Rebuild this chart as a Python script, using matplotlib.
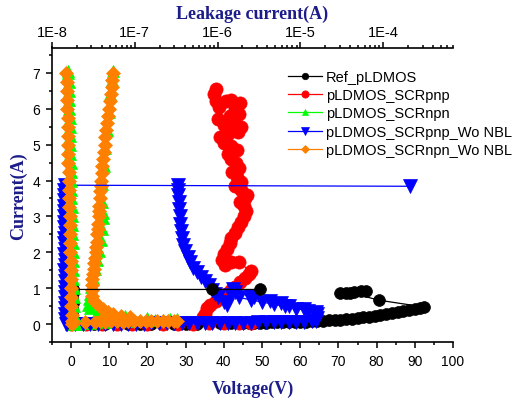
import numpy as np
import matplotlib
matplotlib.use("Agg")
import matplotlib.pyplot as plt
from matplotlib.ticker import MultipleLocator, LogLocator, FuncFormatter, NullFormatter

plt.rcParams['font.family'] = ['Liberation Sans', 'DejaVu Sans']

# ---- TLP I-V data (bottom axis: voltage, left axis: current) ----
ref_v = [0, 3, 6, 9, 12, 15, 18, 21, 24, 27, 30, 33, 36, 39, 42,
         45, 46.5, 48, 49.5, 51, 52.5, 54, 55.5, 57, 58.5, 60, 61.5, 63, 64.5, 66, 67.5, 69,
         70.5, 72, 73.5, 75, 76.5, 78, 79.5, 81, 82.5, 84, 85.5, 87, 88.5, 90, 91.3, 92.5,
         80.7, 73.0, 70.5, 72.0, 74.0, 75.8, 77.3]
ref_i = [0.0, 0.002, 0.004, 0.005, 0.007, 0.01, 0.012, 0.013, 0.016, 0.018, 0.02, 0.022, 0.025, 0.027, 0.03,
         0.035, 0.038, 0.042, 0.046, 0.05, 0.053, 0.057, 0.06, 0.065, 0.068, 0.072, 0.077, 0.085, 0.092, 0.1,
         0.108, 0.115, 0.125, 0.14, 0.155, 0.17, 0.19, 0.21, 0.235, 0.26, 0.28, 0.305, 0.33, 0.36, 0.39, 0.42,
         0.45, 0.48,
         0.67, 0.88, 0.86, 0.87, 0.9, 0.92, 0.93]

pnp_v = [0, 4, 8, 12, 16, 20, 24, 28, 32, 36, 40, 44, 47,
         34.5, 35.0, 35.5, 36.5, 38.0, 39.0, 40.5, 42.0, 43.0, 44.2, 45.5, 46.5, 47.0,
         44.0, 42.0, 40.3, 39.6, 40.0, 40.8, 41.5, 42.0, 43.0, 43.8, 44.5, 45.2, 45.8, 45.3,
         44.2, 45.5, 46.0, 44.6, 43.0, 44.5, 43.5, 42.2, 44.0, 43.2, 42.0, 41.2, 43.5, 42.0,
         40.0, 39.0, 41.0, 43.8, 44.5, 42.5, 40.0, 38.5, 41.5, 44.0, 43.0, 44.3, 42.0, 40.5,
         38.8, 38.0, 37.5, 37.9]
pnp_i = [0.0, 0.003, 0.005, 0.008, 0.01, 0.012, 0.015, 0.018, 0.02, 0.023, 0.026, 0.03, 0.035,
         0.2, 0.3, 0.45, 0.55, 0.65, 0.75, 0.85, 0.95, 1.05, 1.19, 1.3, 1.4, 1.47,
         1.72, 1.74, 1.64, 1.8, 1.95, 2.1, 2.25, 2.4, 2.55, 2.7, 2.85, 3.0, 3.15, 3.3,
         3.4, 3.5, 3.6, 3.75, 3.85, 3.95, 4.1, 4.25, 4.35, 4.5, 4.6, 4.75, 4.85, 4.95,
         5.05, 5.2, 5.3, 5.35, 5.5, 5.6, 5.55, 5.7, 5.8, 5.85, 6.0, 6.15, 6.25, 6.2,
         6.05, 6.2, 6.4, 6.55]

npn_v = [0, 2, 4, 6, 8, 10, 12, 14, 16, 18, 20, 22, 24, 26, 27.7,
         20.0, 14.0, 10.0, 7.0, 5.0,
         4.5, 4.6, 4.9, 5.3, 5.8, 6.3, 6.8, 7.3, 7.8, 8.2, 8.4, 8.3, 8.0, 8.1, 8.5, 8.9,
         9.3, 9.8, 10.3, 10.7, 11.0]
npn_i = [0.0, 0.02, 0.04, 0.05, 0.06, 0.07, 0.08, 0.09, 0.1, 0.1, 0.11, 0.12, 0.13, 0.14, 0.15,
         0.18, 0.22, 0.3, 0.38, 0.45,
         0.55, 0.7, 0.85, 1.05, 1.3, 1.55, 1.8, 2.05, 2.35, 2.65, 2.95, 3.1, 3.4, 3.9, 4.4, 4.9,
         5.4, 5.9, 6.4, 6.8, 7.05]

pnp_nbl_v = [-1, 1, 3, 5, 7, 9, 11, 13, 15, 17, 19, 21, 23, 25, 27, 29, 31, 33, 35, 37, 39, 41,
             43, 45, 47, 49, 51, 53, 55, 57, 59, 61, 63,
             64.0, 64.3, 64.3,
             62.0, 59.0, 56.0, 53.0, 50.0, 47.0, 44.0, 42.0, 40.7,
             42.5, 47.0, 52.0, 57.0, 61.0, 64.0,
             55.0, 48.0, 43.0, 40.0,
             38.5, 37.8, 37.0, 36.0, 35.0, 34.0, 33.0, 32.0, 31.2, 30.5, 29.9, 29.4, 29.1,
             28.8, 28.6, 28.5, 28.3, 28.2, 28.1, 28.0, 28.0]
pnp_nbl_i = [0.0, 0.004, 0.006, 0.008, 0.01, 0.012, 0.014, 0.016, 0.018, 0.02, 0.022, 0.024, 0.026,
             0.028, 0.03, 0.032, 0.034, 0.036, 0.038, 0.04, 0.042, 0.044, 0.046, 0.048, 0.05, 0.053,
             0.056, 0.06, 0.063, 0.066, 0.07, 0.075, 0.08,
             0.1, 0.18, 0.3,
             0.38, 0.44, 0.5, 0.56, 0.62, 0.68, 0.75, 0.82, 0.55,
             0.97, 0.8, 0.65, 0.52, 0.42, 0.34,
             0.58, 0.75, 0.9, 0.62,
             0.75, 0.85, 0.95, 1.08, 1.2, 1.32, 1.45, 1.57, 1.72, 1.88, 2.05, 2.2, 2.4,
             2.6, 2.8, 3.0, 3.2, 3.4, 3.6, 3.75, 3.87]

npn_nbl_v = [0.3, 3.7, 6.3, 7.5, 9.0, 10.5, 12.0, 13.5, 15.0, 16.5, 18.0, 19.5, 21.0, 22.5, 24.0,
             25.5, 27.0, 27.7,
             15.5, 13.0, 11.0, 9.7, 8.3, 7.1, 6.0, 5.4,
             5.45, 5.5, 5.6, 5.75, 5.9, 6.1, 6.3, 6.5, 6.65, 6.8, 6.9, 7.0, 7.1, 7.2, 7.3, 7.4,
             7.5, 7.6, 7.7, 7.85, 8.0, 8.2, 8.4, 8.6, 8.8, 9.0, 9.2, 9.4, 9.6, 9.85, 10.1,
             10.35, 10.6, 10.8, 11.0]
npn_nbl_i = [0.05, 0.07, 0.07, 0.08, 0.07, 0.08, 0.08, 0.07, 0.09, 0.08, 0.08, 0.09, 0.08, 0.08, 0.09,
             0.08, 0.09, 0.09,
             0.2, 0.22, 0.28, 0.35, 0.43, 0.53, 0.65, 0.8,
             0.95, 1.1, 1.25, 1.4, 1.55, 1.7, 1.85, 2.0, 2.15, 2.3, 2.5, 2.65, 2.8, 3.0, 3.15, 3.3,
             3.5, 3.7, 3.85, 4.0, 4.2, 4.4, 4.6, 4.8, 5.0, 5.2, 5.4, 5.6, 5.8, 6.0, 6.2,
             6.4, 6.6, 6.8, 7.0]

# ---- leakage data (top axis: leakage current, left axis: current) ----
ref_leak_i = [0.0, 0.1, 0.2, 0.3, 0.45, 0.6, 0.75, 0.88, 0.97, 0.97, 0.97]
ref_leak = [1.74e-8, 1.75e-8, 1.73e-8, 1.76e-8, 1.75e-8, 1.77e-8, 1.76e-8, 1.78e-8, 1.8e-8, 8.6e-7, 3.25e-6]

pnp_nbl_leak_i = [0.0, 0.15, 0.3, 0.45, 0.6, 0.75, 0.9, 1.05, 1.2, 1.35, 1.5, 1.65, 1.8, 1.95,
                  2.1, 2.25, 2.4, 2.55, 2.7, 2.85, 3.0, 3.15, 3.3, 3.45, 3.6, 3.75, 3.87, 3.84]
pnp_nbl_leak = [1.46e-8, 1.45e-8, 1.44e-8, 1.45e-8, 1.43e-8, 1.44e-8, 1.42e-8, 1.43e-8, 1.42e-8, 1.44e-8,
                1.41e-8, 1.42e-8, 1.43e-8, 1.41e-8, 1.42e-8, 1.4e-8, 1.41e-8, 1.42e-8, 1.4e-8, 1.41e-8,
                1.39e-8, 1.4e-8, 1.41e-8, 1.4e-8, 1.41e-8, 1.4e-8, 1.42e-8, 2.1e-4]

npn_leak_i = [0.02, 0.1, 0.25, 0.5, 0.75, 1.0, 1.25, 1.5, 1.75, 2.0, 2.25, 2.5, 2.75, 3.0, 3.25,
              3.5, 3.75, 4.0, 4.25, 4.5, 4.75, 5.0, 5.25, 5.5, 5.75, 6.0, 6.25, 6.5, 6.75, 7.0, 7.06]
npn_leak = [1.86e-8, 1.86e-8, 1.85e-8, 1.84e-8, 1.83e-8, 1.82e-8, 1.81e-8, 1.80e-8, 1.79e-8, 1.78e-8,
            1.77e-8, 1.76e-8, 1.75e-8, 1.74e-8, 1.73e-8, 1.72e-8, 1.71e-8, 1.70e-8, 1.69e-8, 1.68e-8,
            1.67e-8, 1.66e-8, 1.65e-8, 1.64e-8, 1.63e-8, 1.62e-8, 1.61e-8, 1.60e-8, 1.59e-8, 1.58e-8, 1.57e-8]

npn_nbl_leak_i = [0.02, 0.1, 0.25, 0.5, 0.75, 1.0, 1.25, 1.5, 1.75, 2.0, 2.25, 2.5, 2.75, 3.0, 3.25,
                  3.5, 3.75, 4.0, 4.25, 4.5, 4.75, 5.0, 5.25, 5.5, 5.75, 6.0, 6.25, 6.5, 6.75, 7.0]
npn_nbl_leak = [1.74e-8, 1.74e-8, 1.73e-8, 1.72e-8, 1.71e-8, 1.70e-8, 1.69e-8, 1.69e-8, 1.68e-8, 1.67e-8,
                1.66e-8, 1.65e-8, 1.64e-8, 1.63e-8, 1.62e-8, 1.62e-8, 1.61e-8, 1.60e-8, 1.59e-8, 1.58e-8,
                1.57e-8, 1.56e-8, 1.55e-8, 1.55e-8, 1.54e-8, 1.53e-8, 1.52e-8, 1.51e-8, 1.50e-8, 1.49e-8]

labels = ["Ref_pLDMOS", "pLDMOS_SCRpnp", "pLDMOS_SCRnpn", "pLDMOS_SCRpnp_Wo NBL", "pLDMOS_SCRnpn_Wo NBL"]
colors = ["#000000", "#ff0000", "#00ff00", "#0000ff", "#ff8000"]
markers = ["o", "o", "^", "v", "D"]
msizes = [8.5, 9.5, 9, 9.5, 7.5]

label_color = "#1c1c8a"
serif = ["Liberation Serif", "DejaVu Serif"]

fig = plt.figure(figsize=(5.13, 4.02), dpi=100)
ax = fig.add_axes([52 / 513, 1 - 343.3 / 402, 401 / 513, 294.8 / 402])
ax.set_xlim(-5, 100)
ax.set_ylim(-0.5, 7.7)

ax2 = ax.twiny()
ax2.set_xscale("log")
ax2.set_xlim(1e-8, 7e-4)

iv = [(ref_v, ref_i), (pnp_v, pnp_i), (npn_v, npn_i), (pnp_nbl_v, pnp_nbl_i), (npn_nbl_v, npn_nbl_i)]
handles = []
for k, (v, i) in enumerate(iv):
    h, = ax.plot(v, i, color=colors[k], marker=markers[k], ms=msizes[k], mec=colors[k],
                 mew=0.5, lw=0.9, label=labels[k])
    handles.append(h)

leaks = [(0, ref_leak, ref_leak_i), (3, pnp_nbl_leak, pnp_nbl_leak_i),
         (2, npn_leak, npn_leak_i), (4, npn_nbl_leak, npn_nbl_leak_i)]
for k, lk, i in leaks:
    ax2.plot(lk, i, color=colors[k], marker=markers[k], ms=msizes[k], mec=colors[k],
             mew=0.5, lw=0.9)

# spines / ticks
for a in (ax, ax2):
    a.spines["right"].set_visible(False)
    for s in a.spines.values():
        s.set_linewidth(1.2)
ax.spines["top"].set_visible(False)
ax2.spines["left"].set_visible(False)
ax2.spines["bottom"].set_visible(False)

ax.xaxis.set_major_locator(MultipleLocator(10))
ax.xaxis.set_minor_locator(MultipleLocator(5))
ax.yaxis.set_major_locator(MultipleLocator(1))
ax.yaxis.set_minor_locator(MultipleLocator(0.5))
ax.tick_params(which="both", direction="out", top=False, right=False, labelsize=10, width=1.1)
ax.tick_params(which="major", length=4.5)
ax.tick_params(which="minor", length=2.5)
ax.tick_params(axis="x", pad=4)
ax.tick_params(axis="y", pad=4)

ax2.xaxis.set_major_locator(LogLocator(base=10, numticks=10))
ax2.xaxis.set_minor_locator(LogLocator(base=10, subs=np.arange(2, 10), numticks=20))
ax2.xaxis.set_major_formatter(FuncFormatter(lambda x, p: "1E%d" % int(round(np.log10(x)))))
ax2.xaxis.set_minor_formatter(NullFormatter())
ax2.tick_params(which="both", direction="out", labelsize=10.5, width=1.1, pad=1.5)
ax2.tick_params(which="major", length=4.5)
ax2.tick_params(which="minor", length=2.5)

ax.set_xlabel("Voltage(V)", fontsize=13, fontweight="bold", color=label_color, family=serif, va="center")
ax.xaxis.set_label_coords(0.5, -0.155)
ax.set_ylabel("Current(A)", fontsize=13, fontweight="bold", color=label_color, family=serif, va="center")
ax.yaxis.set_label_coords(-0.084, 0.5)
ax2.set_xlabel("Leakage current(A)", fontsize=13, fontweight="bold", color=label_color, family=serif, va="center")
ax2.xaxis.set_label_coords(0.5, 1.117)

ax2.legend(handles, labels, loc="upper left", bbox_to_anchor=(288 / 513, 1 - 71 / 402),
           bbox_transform=fig.transFigure, frameon=False, fontsize=10.5, markerscale=0.55,
           handlelength=2.3, handletextpad=0.3, labelspacing=0.29, borderpad=0, borderaxespad=0)

fig.savefig("out.png", dpi=100)
